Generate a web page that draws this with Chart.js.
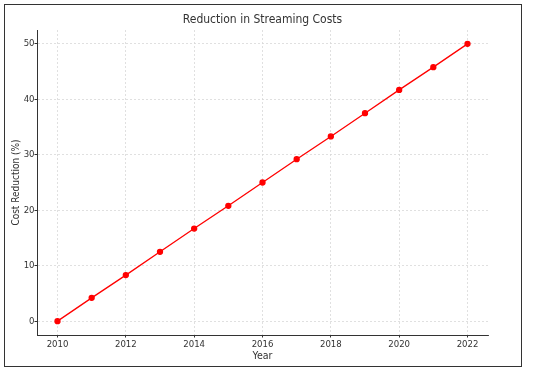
<!DOCTYPE html>
<html>
<head>
<meta charset="utf-8">
<script src="https://cdn.jsdelivr.net/npm/chart.js@4"></script>
<style>
  html, body { margin: 0; padding: 0; background: #fff; }
  #wrap { position: relative; width: 537px; height: 370px; }
  #frame {
    position: absolute; left: 4px; top: 4px; width: 516px; height: 361px;
    border: 1.5px solid #333; pointer-events: none;
  }
</style>
</head>
<body>
<div id="wrap">
  <canvas id="chart" width="537" height="370"></canvas>
  <div id="frame"></div>
</div>
<script>
// values
const years = [2010, 2011, 2012, 2013, 2014, 2015, 2016, 2017, 2018, 2019, 2020, 2021, 2022]
const costReduction = [0, 4.2, 8.3, 12.5, 16.7, 20.8, 25, 29.2, 33.3, 37.5, 41.7, 45.8, 50]
const xTicks = [2010, 2012, 2014, 2016, 2018, 2020, 2022]
const yTicks = [0, 10, 20, 30, 40, 50]

const fontFamily = "'DejaVu Sans Condensed', 'DejaVu Sans', sans-serif"
const textColor = "#333"

const titlePlugin = {
  id: "figTitle",
  afterDraw(chart) {
    const {ctx, chartArea} = chart
    ctx.save()
    ctx.font = `12px ${fontFamily}`
    ctx.fillStyle = textColor
    ctx.textAlign = "center"
    ctx.textBaseline = "middle"
    ctx.fillText("Reduction in Streaming Costs", (chartArea.left + chartArea.right) / 2, 20)
    ctx.restore()
  }
}

const axisStyle = (ticks, pad) => ({
  afterBuildTicks: (scale) => { scale.ticks = ticks.map(v => ({value: v})) },
  grid: {
    color: "#d9d9d9",
    lineWidth: 0.8,
    drawTicks: true,
    tickLength: 2.5,
    tickColor: "#333",
    tickWidth: 1
  },
  border: {display: true, color: "#333", width: 1, dash: [2, 2]},
  ticks: {
    color: textColor,
    font: {family: fontFamily, size: 9.5},
    padding: pad,
    maxRotation: 0,
    autoSkip: false,
    callback: (v) => String(v)
  }
})

new Chart(document.getElementById("chart"), {
  type: "line",
  data: {
    datasets: [{
      label: "Cost Reduction",
      data: years.map((y, i) => ({x: y, y: costReduction[i]})),
      borderColor: "#ff0000",
      backgroundColor: "#ff0000",
      borderWidth: 1.3,
      pointRadius: 2.5,
      pointHoverRadius: 2.5,
      tension: 0
    }]
  },
  options: {
    responsive: false,
    animation: false,
    layout: {padding: {left: 0, top: 30, right: 49, bottom: 0}},
    plugins: {legend: {display: false}, tooltip: {enabled: false}, title: {display: false}},
    scales: {
      x: {
        ...axisStyle(xTicks, 1.5),
        type: "linear",
        min: 2009.4,
        max: 2022.6,
        afterFit: (scale) => { scale.height = 35 },
        title: {display: true, text: "Year", color: textColor, font: {family: fontFamily, size: 10.5}, padding: {top: 0, bottom: 7.7}}
      },
      y: {
        ...axisStyle(yTicks, 0),
        min: -2.5,
        max: 52.5,
        afterFit: (scale) => { scale.width = 37 },
        title: {display: true, text: "Cost Reduction (%)", color: textColor, font: {family: fontFamily, size: 10}, padding: {top: 10.5, bottom: 0}}
      }
    }
  },
  plugins: [titlePlugin]
})
</script>
</body>
</html>
